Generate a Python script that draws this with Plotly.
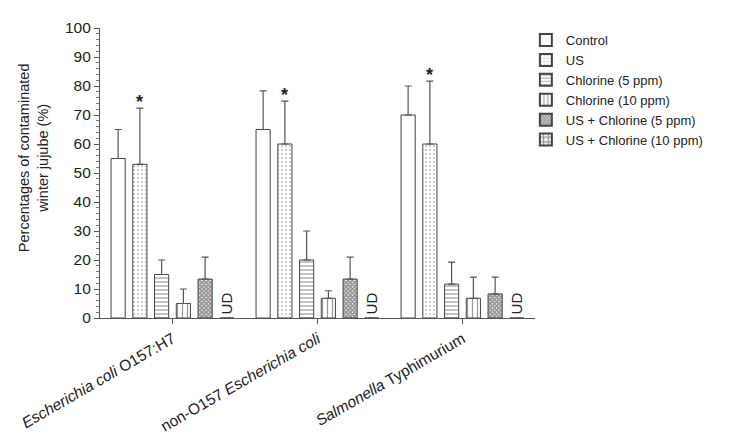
import plotly.graph_objects as go

categories = ["<i>Escherichia coli</i> O157:H7", "non-O157 <i>Escherichia coli</i>", "<i>Salmonella</i> Typhimurium"]
series_names = ["Control", "US", "Chlorine (5 ppm)", "Chlorine (10 ppm)", "US + Chlorine (5 ppm)", "US + Chlorine (10 ppm)"]
control = [55, 65, 70]
control_err = [10, 13.3, 10]
us = [53, 60, 60]
us_err = [19.4, 14.8, 21.7]
cl5 = [15, 20, 11.7]
cl5_err = [5, 10, 7.6]
cl10 = [5, 6.8, 6.8]
cl10_err = [5, 2.6, 7.3]
uscl5 = [13.4, 13.4, 8.3]
uscl5_err = [7.6, 7.6, 5.8]
uscl10 = [0, 0, 0]
uscl10_err = [0, 0, 0]

values = [control, us, cl5, cl10, uscl5, uscl10]
errors = [control_err, us_err, cl5_err, cl10_err, uscl5_err, uscl10_err]
patterns = [
    dict(shape=""),
    dict(shape=".", size=4, solidity=0.2, fgcolor="#777"),
    dict(shape="-", size=4, solidity=0.3, fgcolor="#333"),
    dict(shape="|", size=5, solidity=0.25, fgcolor="#333"),
    dict(shape="x", size=3, solidity=0.8, fgcolor="#2a2a2a"),
    dict(shape="+", size=6, solidity=0.5, fgcolor="#333"),
]

FONT = "Liberation Sans, Arial, sans-serif"
xs = [0, 1, 2]
fig = go.Figure()
for name, v, e, p in zip(series_names, values, errors, patterns):
    fig.add_trace(go.Bar(
        x=xs, y=v, name=name,
        marker=dict(color="white", line=dict(color="#444", width=1), pattern=p),
        error_y=dict(type="data", symmetric=False, array=e, arrayminus=[0]*len(e),
                     color="#555", thickness=1.2, width=3.5, visible=True),
    ))

slot = 0.9 / 6
ann = []
for i in xs:
    xu = i - 0.45 + slot * 1.5
    ann.append(dict(x=xu, y=us[i] + us_err[i], xref="x", yref="y", text="<b>*</b>",
                    showarrow=False, yanchor="bottom", yshift=-6,
                    font=dict(size=18, color="#222", family=FONT)))
    xd = i - 0.45 + slot * 5.5
    ann.append(dict(x=xd, y=5.0, xref="x", yref="y", text="UD", textangle=-90,
                    showarrow=False, font=dict(size=15, color="#222", family=FONT)))
ann.append(dict(x=-0.196, y=0.552, xref="paper", yref="paper",
                text="Percentages of contaminated<br>winter jujube (%)",
                textangle=-90, showarrow=False,
                font=dict(size=14.5, color="#222", family=FONT)))

# the page places the figure 8px in from the top-left, so margins are offset by 8px
fig.update_layout(
    width=731, height=441,
    margin=dict(l=92, r=204, t=20, b=131),
    paper_bgcolor="white", plot_bgcolor="white",
    barmode="group", bargap=0.1, bargroupgap=0.35,
    font=dict(family=FONT, color="#222"),
    showlegend=True,
    legend=dict(x=0.979, y=1.01, xanchor="left", yanchor="top",
                font=dict(size=13, family=FONT, color="#222"),
                tracegroupgap=0, itemsizing="constant", bgcolor="rgba(0,0,0,0)"),
    annotations=ann,
    xaxis=dict(range=[-0.5, 2.5], tickvals=xs, ticktext=categories, tickangle=-30,
               showline=True, linecolor="#555", linewidth=1.2, ticks="outside",
               ticklen=5, tickcolor="#555", showgrid=False, zeroline=False,
               automargin=False,
               tickfont=dict(size=15.5, family=FONT, color="#222")),
    yaxis=dict(range=[0, 100], dtick=10, showline=True, linecolor="#555", linewidth=1.2,
               ticks="outside", ticklen=5, tickcolor="#555", showgrid=False, zeroline=False,
               automargin=False,
               tickfont=dict(size=15.5, family=FONT, color="#222"),
               minor=dict(dtick=2, ticks="outside", ticklen=3, tickcolor="#777")),
)
fig.write_html("out.html")
